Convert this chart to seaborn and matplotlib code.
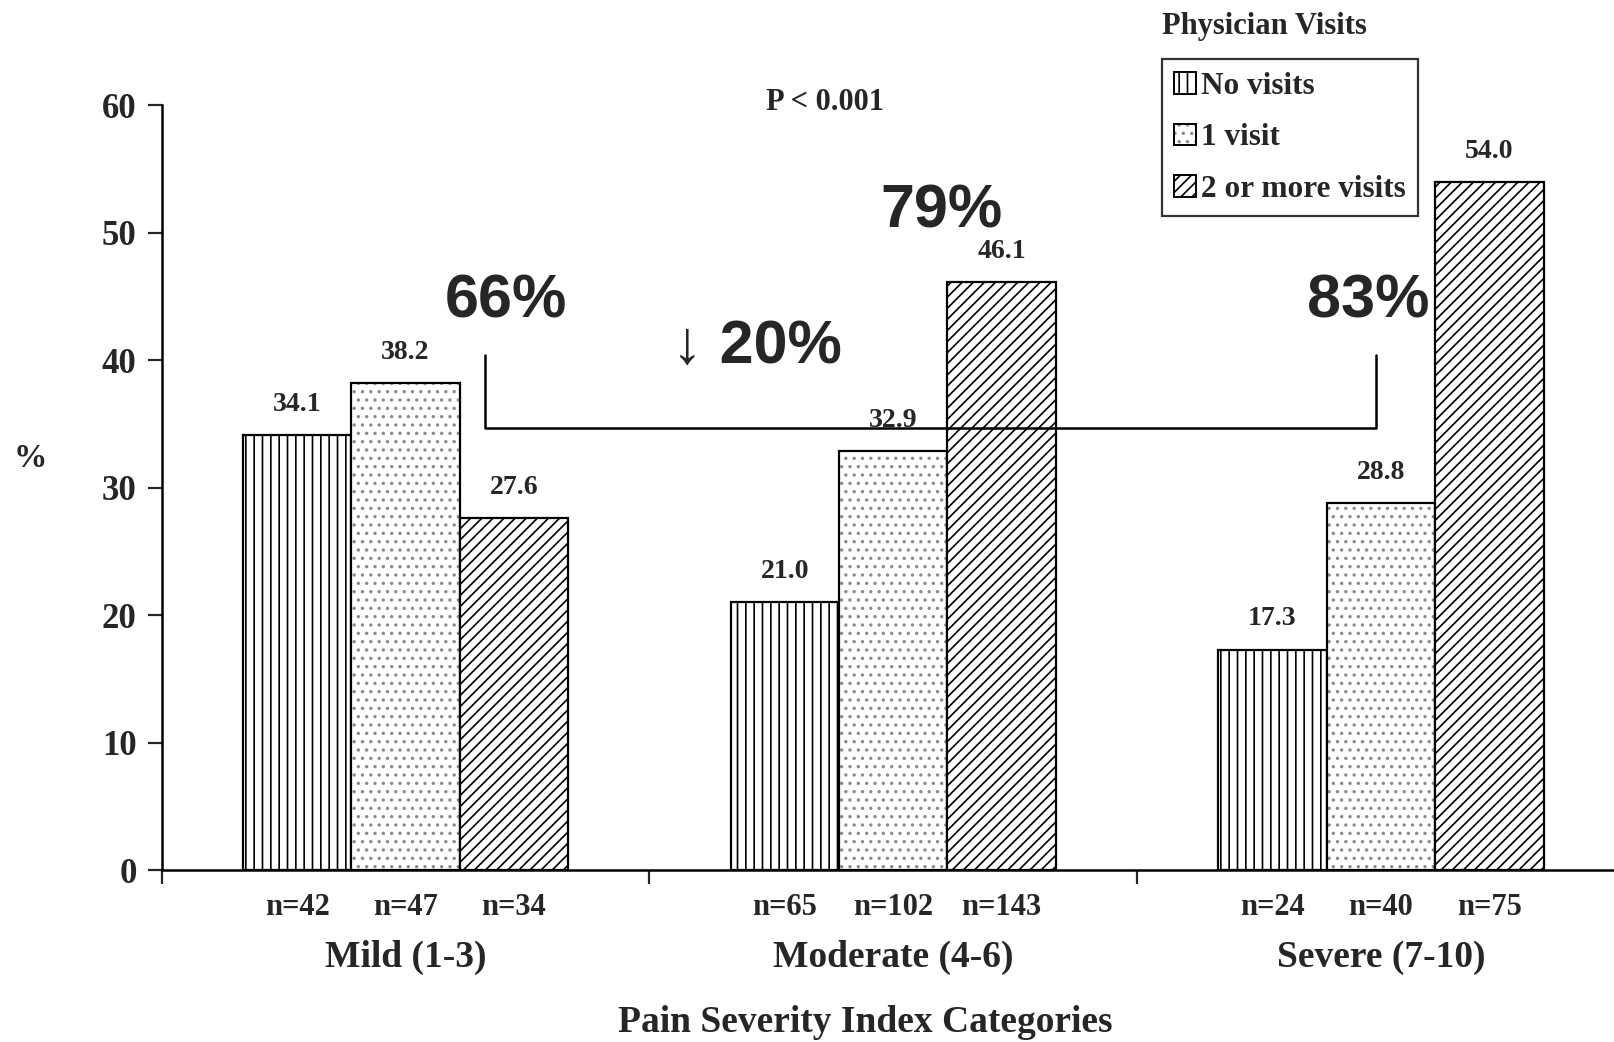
import matplotlib
matplotlib.use("Agg")
import matplotlib.pyplot as plt
from matplotlib.colors import to_rgba
from matplotlib.patches import Patch
import seaborn as sns
import pandas as pd

# данные
categories = ["Mild (1-3)", "Moderate (4-6)", "Severe (7-10)"]
visit_groups = ["No visits", "1 visit", "2 or more visits"]
no_visits = [34.1, 21.0, 17.3]
one_visit = [38.2, 32.9, 28.8]
two_more = [27.6, 46.1, 54.0]
n_no = [42, 65, 24]
n_one = [47, 102, 40]
n_two = [34, 143, 75]
hatches = ["||", "..", "///"]
hatch_colors = ["black", "#8a8a8a", "black"]

rows = []
for vals, ns, grp in [(no_visits, n_no, visit_groups[0]),
                      (one_visit, n_one, visit_groups[1]),
                      (two_more, n_two, visit_groups[2])]:
    for cat, v, n in zip(categories, vals, ns):
        rows.append({"cat": cat, "visits": grp, "pct": v, "n": n})
df = pd.DataFrame(rows)

sns.set_style("white")
plt.rcParams["font.family"] = ["Liberation Serif", "DejaVu Serif"]
plt.rcParams["font.weight"] = "bold"
plt.rcParams["hatch.linewidth"] = 1.2

fig = plt.figure(figsize=(16.15, 10.42), dpi=100)
ax = fig.add_axes([0.1001, 0.165, 0.8999, 0.734])

sns.barplot(data=df, x="cat", y="pct", hue="visits", order=categories,
            hue_order=visit_groups, width=0.667,
            palette=["white"] * 3, edgecolor="black", linewidth=1.6,
            legend=False, ax=ax, errorbar=None)


def style_patch(p, h, hc):
    p.set_hatch(h)
    p.set_edgecolor("black")
    # цвет штриховки отдельно от контура
    if hasattr(p, "set_hatchcolor"):
        p.set_hatchcolor(hc)
    else:
        p._hatch_color = to_rgba(hc)


for cont, h, hc, ns in zip(ax.containers, hatches, hatch_colors, [n_no, n_one, n_two]):
    for p, n in zip(cont, ns):
        style_patch(p, h, hc)
        cx = p.get_x() + p.get_width() / 2
        ax.annotate(f"n={n}", xy=(cx, 0), xycoords=("data", "axes fraction"),
                    xytext=(0, -27), textcoords="offset points",
                    ha="center", va="center", fontsize=22, fontweight="bold")
    ax.bar_label(cont, fmt="%.1f", padding=13, fontsize=20, fontweight="bold")

ax.set_ylim(0, 60)
ax.set_xlim(-0.5, 2.48)
ax.set_yticks(range(0, 61, 10))
ax.tick_params(axis="y", labelsize=25, length=10, width=1.6, direction="out",
               left=True, pad=8)
ax.set_xticks([-0.5, 0.5, 1.5])
ax.set_xticklabels([])
ax.tick_params(axis="x", which="major", length=10, width=1.6, direction="out",
               bottom=True)
ax.set_xticks([0, 1, 2], minor=True)
ax.set_xticklabels(categories, minor=True)
ax.tick_params(axis="x", which="minor", length=0, labelsize=27, pad=50)
for lab in ax.get_yticklabels() + ax.get_xticklabels(minor=True):
    lab.set_fontweight("bold")

sns.despine(ax=ax, top=True, right=True)
for s in ["left", "bottom"]:
    ax.spines[s].set_linewidth(1.8)
    ax.spines[s].set_color("black")
ax.set_xlabel("")
ax.set_ylabel("")

fig.text(0.019, 0.56, "%", fontsize=24, fontweight="bold", ha="center", va="center")
fig.text(0.536, 0.019, "Pain Severity Index Categories", fontsize=27,
         fontweight="bold", ha="center", va="center")
ax.text(0.86, 60.2, "P < 0.001", fontsize=22, fontweight="bold", ha="center", va="center")

# скобка сравнения
br_x0, br_x1 = 0.162, 1.989
br_low, br_high = 34.7, 40.4
ax.plot([br_x0, br_x0, br_x1, br_x1], [br_high, br_low, br_low, br_high],
        color="black", lw=1.8, clip_on=False)

big = dict(fontsize=44, fontweight="bold", family=["Liberation Sans", "DejaVu Sans"],
           ha="center", va="center")
ax.text(0.205, 44.6, "66%", **big)
ax.text(1.1, 51.6, "79%", **big)
ax.text(1.974, 44.6, "83%", **big)
ax.text(0.72, 41.0, "↓ 20%", **big)

# легенда
handles = []
for h, hc in zip(hatches, hatch_colors):
    hp = Patch(facecolor="white", edgecolor="black", hatch=h, lw=1.4)
    if hasattr(hp, "set_hatchcolor"):
        hp.set_hatchcolor(hc)
    else:
        hp._hatch_color = to_rgba(hc)
    handles.append(hp)
leg = fig.legend(handles, visit_groups, loc="upper left",
                 bbox_to_anchor=(0.7195, 0.943), frameon=True, fancybox=False,
                 edgecolor="black", fontsize=22.5, handlelength=0.7, handleheight=0.7,
                 handletextpad=0.15, borderpad=0.4, labelspacing=0.72, borderaxespad=0)
leg.get_frame().set_linewidth(1.6)
for t in leg.get_texts():
    t.set_fontweight("bold")
fig.text(0.7195, 0.975, "Physician Visits", fontsize=22, fontweight="bold",
         ha="left", va="center")

fig.savefig("out.png", dpi=100, facecolor="white")
